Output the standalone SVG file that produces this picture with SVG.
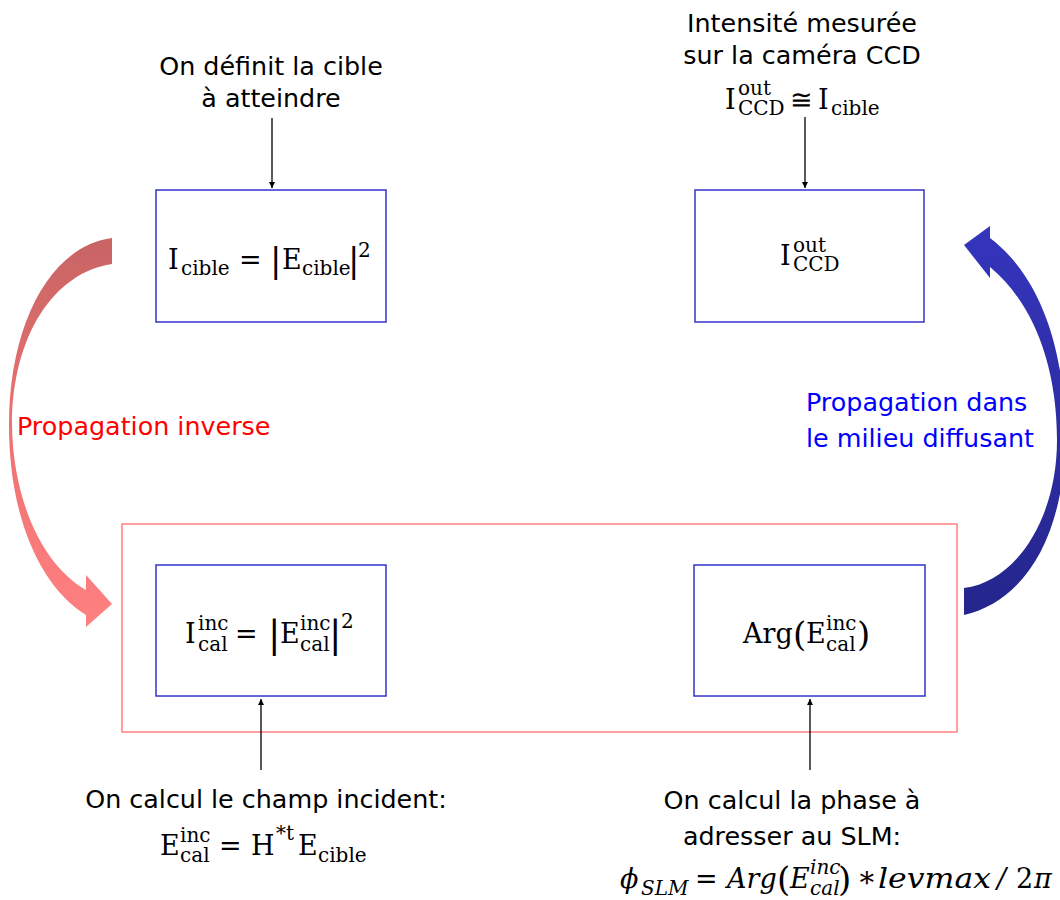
<svg xmlns="http://www.w3.org/2000/svg" width="1060" height="900" viewBox="0 0 1060 900">
<style>
.box{fill:#fff;stroke:#3333cc;stroke-width:1.5}
.outer{fill:none;stroke:#ff8080;stroke-width:1.5}
.t{font-family:"DejaVu Sans",Verdana,sans-serif;font-size:25.4px;fill:#000}
.m{font-family:"DejaVu Serif",serif;font-size:27px;fill:#000}
.s{font-size:20px}
.i{font-style:italic}
.u{font-style:normal}
.bar{font-size:34px}
.conn{stroke:#000;stroke-width:1.3;fill:none;marker-end:url(#ah)}
</style>
<defs>
<marker id="ah" viewBox="0 0 10 10" refX="10" refY="5" markerWidth="6" markerHeight="6" markerUnits="userSpaceOnUse" orient="auto">
<path d="M0,0 L10,5 L0,10 Z" fill="#000"/>
</marker>
<linearGradient id="gr" gradientUnits="userSpaceOnUse" x1="0" y1="238" x2="0" y2="627">
<stop offset="0" stop-color="#c86464"/>
<stop offset="0.55" stop-color="#f07474"/>
<stop offset="1" stop-color="#ff8080"/>
</linearGradient>
<linearGradient id="gb" gradientUnits="userSpaceOnUse" x1="0" y1="226" x2="0" y2="615">
<stop offset="0" stop-color="#3535bd"/>
<stop offset="1" stop-color="#25258c"/>
</linearGradient>
</defs>
<rect width="1060" height="900" fill="#fff"/>

<g id="group-outer">
<rect class="outer" x="122" y="524" width="835" height="208"/>
</g>

<g id="connectors">
<line class="conn" x1="272" y1="118" x2="272" y2="188"/>
<line class="conn" x1="805" y1="117" x2="805" y2="188"/>
<line class="conn" x1="261" y1="770" x2="261" y2="699"/>
<line class="conn" x1="810" y1="770" x2="810" y2="699"/>
<path id="arrow-inverse" fill="url(#gr)" d="M112,238 C50,246 9,325 9,425 C9,520 42,588 86,615 L86,627 L112,604 L86,575 L86,590 C42,565 13,500 12,425 C12,335 55,272 112,264 Z"/>
<path id="arrow-direct" fill="url(#gb)" d="M964,615 C1022,602 1064,540 1065,440 C1066,340 1035,272 990,238 L990,226 L964,245 L990,278 L990,267 C1030,300 1057,360 1057,440 C1057,520 1015,582 964,588 Z"/>
</g>

<g id="node-cible">
<rect class="box" x="156" y="190" width="230" height="132"/>
<text class="m" y="269"><tspan x="168">I</tspan><tspan class="s" x="181" y="275">cible</tspan><tspan x="239" y="269">=</tspan><tspan class="bar" x="270" y="272">|</tspan><tspan x="282" y="269">E</tspan><tspan class="s" x="302" y="275">cible</tspan><tspan class="bar" x="348" y="272">|</tspan><tspan class="s" x="358" y="257">2</tspan></text>
</g>

<g id="node-ccd">
<rect class="box" x="695" y="190" width="229" height="132"/>
<text class="m" y="265"><tspan x="780">I</tspan><tspan class="s" x="793" y="252">out</tspan><tspan class="s" x="793" y="271">CCD</tspan></text>
</g>

<g id="node-inc">
<rect class="box" x="156" y="565" width="230" height="131"/>
<text class="m" y="643"><tspan x="185">I</tspan><tspan class="s" x="198" y="630">inc</tspan><tspan class="s" x="198" y="651">cal</tspan><tspan x="235" y="643">=</tspan><tspan class="bar" x="268" y="647" style="font-size:37px">|</tspan><tspan x="280" y="643">E</tspan><tspan class="s" x="300" y="630">inc</tspan><tspan class="s" x="300" y="651">cal</tspan><tspan class="bar" x="329" y="647" style="font-size:37px">|</tspan><tspan class="s" x="341" y="628">2</tspan></text>
</g>

<g id="node-arg">
<rect class="box" x="694" y="565" width="231" height="131"/>
<text class="m" y="643"><tspan x="743">Arg</tspan><tspan class="bar" x="793" y="646">(</tspan><tspan x="806" y="643">E</tspan><tspan class="s" x="826" y="630">inc</tspan><tspan class="s" x="826" y="651">cal</tspan><tspan class="bar" x="857" y="646">)</tspan></text>
</g>

<g id="label-cible">
<text class="t" text-anchor="middle" x="271" y="75">On définit la cible</text>
<text class="t" text-anchor="middle" x="271" y="107">à atteindre</text>
</g>

<g id="label-ccd">
<text class="t" text-anchor="middle" x="802" y="32">Intensité mesurée</text>
<text class="t" text-anchor="middle" x="802" y="64">sur la caméra CCD</text>
<text class="m" y="109"><tspan x="725">I</tspan><tspan class="s" x="738" y="95">out</tspan><tspan class="s" x="738" y="115">CCD</tspan><tspan x="790" y="109">≅</tspan><tspan x="818" y="109">I</tspan><tspan class="s" x="831" y="115">cible</tspan></text>
</g>

<g id="label-inverse">
<text class="t" x="17" y="435" style="fill:#ff0000">Propagation inverse</text>
</g>

<g id="label-direct">
<text class="t" x="806" y="411" style="fill:#0000ff">Propagation dans</text>
<text class="t" x="806" y="447" style="fill:#0000ff">le milieu diffusant</text>
</g>

<g id="label-inc">
<text class="t" text-anchor="middle" x="266" y="808">On calcul le champ incident:</text>
<text class="m" y="855"><tspan x="160">E</tspan><tspan class="s" x="180" y="842">inc</tspan><tspan class="s" x="180" y="862">cal</tspan><tspan x="219" y="855">=</tspan><tspan x="251" y="855">H</tspan><tspan class="s" x="276" y="840">*t</tspan><tspan x="298" y="855">E</tspan><tspan class="s" x="318" y="862">cible</tspan></text>
</g>

<g id="label-arg">
<text class="t" text-anchor="middle" x="792" y="809">On calcul la phase à</text>
<text class="t" text-anchor="middle" x="792" y="845">adresser au SLM:</text>
<text class="m i" y="888"><tspan x="620">ϕ</tspan><tspan class="s" x="641" y="895">SLM</tspan><tspan class="u" x="695" y="888">=</tspan><tspan x="727" y="888">Arg</tspan><tspan class="bar u" x="777" y="891">(</tspan><tspan x="790" y="888">E</tspan><tspan class="s" x="810" y="874">inc</tspan><tspan class="s" x="810" y="895">cal</tspan><tspan class="bar u" x="838" y="891">)</tspan><tspan class="u" x="857" y="887" style="font-size:29px">∗</tspan><tspan x="878" y="888" textLength="113" lengthAdjust="spacingAndGlyphs">levmax</tspan><tspan x="997" y="888">/</tspan><tspan class="u" x="1016" y="888">2</tspan><tspan x="1034" y="888">π</tspan></text>
</g>
</svg>
